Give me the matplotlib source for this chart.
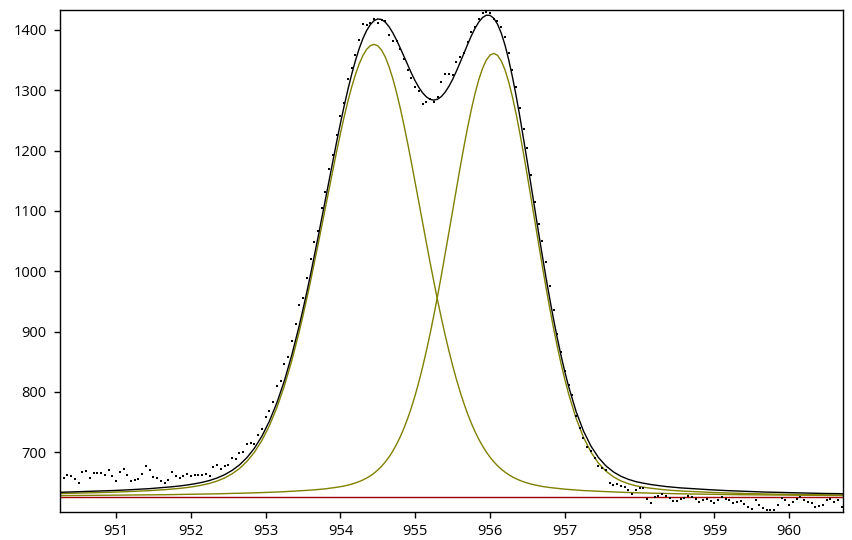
import numpy as np
import matplotlib
matplotlib.use("Agg")
import matplotlib.pyplot as plt

plt.rcParams['font.family'] = ['Open Sans', 'DejaVu Sans']

# energy grid of the fitted curves (eV), 0.1 eV steps
fit_ev = [float(v) for v in """
950.25 950.35 950.45 950.55 950.65 950.75 950.85 950.95
951.05 951.15 951.25 951.35 951.45 951.55 951.65 951.75 951.85 951.95
952.05 952.15 952.25 952.35 952.45 952.55 952.65 952.75 952.85 952.95
953.05 953.15 953.25 953.35 953.45 953.55 953.65 953.75 953.85 953.95
954.05 954.15 954.25 954.35 954.45 954.55 954.65 954.75 954.85 954.95
955.05 955.15 955.25 955.35 955.45 955.55 955.65 955.75 955.85 955.95
956.05 956.15 956.25 956.35 956.45 956.55 956.65 956.75 956.85 956.95
957.05 957.15 957.25 957.35 957.45 957.55 957.65 957.75 957.85 957.95
958.05 958.15 958.25 958.35 958.45 958.55 958.65 958.75 958.85 958.95
959.05 959.15 959.25 959.35 959.45 959.55 959.65 959.75 959.85 959.95
960.05 960.15 960.25 960.35 960.45 960.55 960.65 960.75
""".split()]

# extra points between them across the two peaks
mid_ev = [float(v) for v in """
953.50 953.60 953.70 953.80 953.90 954.00 954.10 954.20 954.30 954.40
954.50 954.60 954.70 954.80 954.90 955.00 955.10 955.20 955.30 955.40
955.50 955.60 955.70 955.80 955.90 956.00 956.10 956.20 956.30 956.40
956.50 956.60 956.70 956.80 956.90 957.00
""".split()]

# component 1 (lower binding energy peak)
comp1 = [631.5, 631.8, 632.0, 632.3, 632.7, 633.0, 633.4, 633.8, 634.2, 634.7,
         635.2, 635.8, 636.4, 637.2, 638.0, 639.0, 640.1, 641.5, 643.3, 645.5,
         648.4, 652.2, 657.3, 664.1, 673.0, 684.8, 700.0, 719.5, 743.9, 773.8,
         809.7, 852.0, 900.3, 954.4, 1013.0, 1074.9, 1137.7, 1199.0, 1256.0, 1305.1,
         1343.3, 1367.7, 1376.0, 1366.5, 1339.1, 1296.3, 1241.8, 1179.5, 1113.2, 1046.5,
         982.1, 922.1, 868.3, 821.2, 781.2, 748.2, 721.5, 700.5, 684.3, 672.0,
         662.8, 656.0, 650.9, 647.2, 644.5, 642.4, 640.8, 639.4, 638.3, 637.4,
         636.5, 635.9, 635.3, 634.7, 634.2, 633.7, 633.3, 632.9, 632.6, 632.2,
         631.9, 631.6, 631.4, 631.1, 630.9, 630.7, 630.5, 630.3, 630.1, 629.9,
         629.8, 629.6, 629.5, 629.3, 629.2, 629.1, 629.0, 628.9, 628.8, 628.7,
         628.6, 628.5, 628.4, 628.4, 628.3, 628.2]
comp1_mid = [926.7, 983.2, 1043.7, 1106.3, 1168.7, 1228.2, 1281.7, 1325.8, 1357.4, 1373.9,
             1373.6, 1354.9, 1319.4, 1270.3, 1211.3, 1146.6, 1079.7, 1013.8, 951.4, 894.4,
             843.8, 800.3, 763.8, 734.1, 710.4, 691.9, 677.7, 667.1, 659.1, 653.3,
             649.0, 645.8, 643.3, 641.5, 640.0, 638.8]

# component 2 (higher binding energy peak)
comp2 = [628.1, 628.2, 628.3, 628.4, 628.4, 628.5, 628.6, 628.7, 628.8, 628.9,
         629.1, 629.2, 629.3, 629.5, 629.6, 629.8, 630.0, 630.2, 630.4, 630.6,
         630.8, 631.1, 631.4, 631.7, 632.0, 632.3, 632.7, 633.1, 633.6, 634.1,
         634.6, 635.3, 635.9, 636.7, 637.7, 638.8, 640.2, 641.9, 644.1, 647.1,
         651.4, 657.2, 665.3, 676.7, 692.2, 712.9, 740.0, 774.5, 817.2, 868.4,
         927.5, 993.5, 1064.1, 1136.2, 1205.8, 1267.9, 1317.6, 1349.8, 1361.0, 1348.8,
         1313.7, 1260.2, 1193.6, 1120.1, 1044.8, 972.2, 905.4, 846.7, 797.1, 756.5,
         724.6, 700.2, 681.9, 668.7, 659.2, 652.5, 647.8, 644.4, 642.1, 640.3,
         638.9, 637.6, 636.6, 635.8, 635.2, 634.5, 634.0, 633.5, 633.0, 632.6,
         632.2, 631.8, 631.5, 631.2, 630.9, 630.7, 630.4, 630.2, 630.0, 629.8,
         629.6, 629.5, 629.3, 629.2, 629.1, 628.9]
comp2_mid = [636.4, 637.2, 638.2, 639.4, 640.9, 642.9, 645.5, 649.1, 654.0, 660.9,
             670.6, 683.9, 701.8, 725.6, 756.3, 794.8, 841.8, 897.0, 959.8, 1028.4,
             1100.2, 1171.6, 1238.0, 1294.6, 1336.1, 1358.2, 1357.9, 1333.9, 1288.9, 1228.2,
             1157.4, 1082.4, 1008.0, 938.0, 875.0, 820.8]

# envelope of the fit
envelope = [633.6, 634.0, 634.3, 634.7, 635.1, 635.5, 636.0, 636.5, 637.0, 637.6,
            638.3, 639.0, 639.7, 640.7, 641.6, 642.8, 644.1, 645.7, 647.7, 650.1,
            653.2, 657.3, 662.7, 669.8, 679.0, 691.1, 706.7, 726.6, 751.5, 781.9,
            818.3, 861.3, 910.2, 965.1, 1024.7, 1087.7, 1151.9, 1214.9, 1274.1, 1326.2,
            1368.7, 1398.9, 1415.3, 1417.2, 1405.3, 1383.2, 1355.8, 1328.0, 1304.4, 1288.9,
            1283.6, 1289.6, 1306.4, 1331.4, 1361.0, 1390.1, 1413.1, 1424.3, 1419.3, 1394.8,
            1350.5, 1290.2, 1218.5, 1141.3, 1063.3, 988.6, 920.2, 860.1, 809.4, 767.9,
            735.1, 710.1, 691.2, 677.4, 667.4, 660.2, 655.1, 651.3, 648.7, 646.5,
            644.8, 643.2, 642.0, 640.9, 640.1, 639.2, 638.5, 637.8, 637.1, 636.5,
            636.0, 635.4, 635.0, 634.5, 634.1, 633.8, 633.4, 633.1, 632.8, 632.5,
            632.2, 632.0, 631.7, 631.6, 631.4, 631.1]
envelope_mid = [937.1, 994.4, 1055.9, 1119.7, 1183.6, 1245.1, 1301.2, 1348.9, 1385.4, 1408.8,
                1418.2, 1412.8, 1395.2, 1369.9, 1341.6, 1315.4, 1295.5, 1284.8, 1285.2, 1296.8,
                1318.0, 1345.9, 1375.8, 1402.7, 1420.5, 1424.1, 1409.6, 1375.0, 1322.0, 1255.5,
                1180.4, 1102.2, 1025.3, 953.5, 889.0, 833.6]

# background
bg_ev = [950.25, 960.75]
bg_red = [626.0, 626.0]

# measured counts
data_ev = [float(v) for v in """
950.30 950.35 950.40 950.45 950.50 950.55 950.60 950.65 950.70 950.75 950.80 950.85 950.90 950.95
951.00 951.05 951.10 951.15 951.20 951.25 951.30 951.35 951.40 951.45
951.50 951.55 951.60 951.65 951.70 951.75 951.80 951.85 951.90 951.95
952.00 952.05 952.10 952.15 952.20 952.25 952.30 952.35 952.40 952.45
952.50 952.55 952.60 952.65 952.70 952.75 952.80 952.85 952.90 952.95
953.00 953.05 953.10 953.15 953.20 953.25 953.30 953.35 953.40 953.45
953.50 953.55 953.60 953.65 953.70 953.75 953.80 953.85 953.90 953.95
954.00 954.05 954.10 954.15 954.20 954.25 954.30 954.35 954.40 954.45
954.50 954.55 954.60 954.65 954.70 954.75 954.80 954.85 954.90 954.95
955.00 955.05 955.10 955.15 955.20 955.25 955.30 955.35 955.40 955.45
955.50 955.55 955.60 955.65 955.70 955.75 955.80 955.85 955.90 955.95
956.00 956.05 956.10 956.15 956.20 956.25 956.30 956.35 956.40 956.45
956.50 956.55 956.60 956.65 956.70 956.75 956.80 956.85 956.90 956.95
957.00 957.05 957.10 957.15 957.20 957.25 957.30 957.35 957.40 957.45
957.50 957.55 957.60 957.65 957.70 957.75 957.80 957.85 957.90 957.95
958.00 958.05 958.10 958.15 958.20 958.25 958.30 958.35 958.40 958.45
958.50 958.55 958.60 958.65 958.70 958.75 958.80 958.85 958.90 958.95
959.00 959.05 959.10 959.15 959.20 959.25 959.30 959.35 959.40 959.45
959.50 959.55 959.60 959.65 959.70 959.75 959.80 959.85 959.90 959.95
960.00 960.05 960.10 960.15 960.20 960.25 960.30 960.35 960.40 960.45
960.50 960.55 960.60 960.65 960.70
""".split()]

counts = [657, 662, 660, 656, 649, 667, 669, 657, 665, 665, 665, 662, 671, 660, 652,
          667, 673, 662, 652, 654, 656, 664, 677, 670, 659, 657, 653, 649, 654, 667,
          660, 658, 660, 664, 661, 662, 662, 662, 664, 660,
          676, 679, 672, 678, 679, 691, 689, 698, 700, 713, 716, 714, 728, 738, 759,
          768, 784, 810,
          818, 846, 858, 884, 912, 944, 955, 988, 1021, 1048, 1067, 1105, 1131, 1170,
          1193, 1226, 1258, 1279, 1318, 1337, 1359, 1383, 1410, 1408, 1411, 1418, 1412,
          1417, 1414, 1392, 1381, 1381, 1368, 1352, 1334, 1320, 1305, 1299, 1278, 1281,
          1285, 1281, 1289, 1314, 1327, 1327, 1325, 1347, 1355, 1361, 1380, 1397, 1405,
          1418, 1428, 1429, 1428, 1418,
          1415, 1404, 1388, 1362, 1333, 1306, 1270, 1236, 1205, 1160, 1114, 1078, 1050,
          1015, 975, 935, 896, 866, 834, 812, 795, 760, 741, 723, 709, 702, 691, 678,
          674, 670, 649, 645, 647, 644, 643, 638, 630, 638, 641, 641, 623, 616, 625,
          628, 631, 628, 624, 620, 620, 622, 624, 627, 626, 622, 617, 621, 623, 620,
          616, 621, 626, 622, 621, 616, 618, 620, 614, 609, 606, 621, 612, 608, 605,
          604, 604, 612, 624, 621, 613, 617, 622, 625, 621, 617, 616, 609, 611, 613,
          621, 622, 618, 621, 610]

x_ticks = [951, 952, 953, 954, 955, 956, 957, 958, 959, 960]
y_ticks = [700, 800, 900, 1000, 1100, 1200, 1300, 1400]


def merged(coarse, fine):
    # put the coarse grid and the in-between points in energy order
    ev = np.array(fit_ev + mid_ev)
    vals = np.array(coarse + fine)
    order = np.argsort(ev)
    return ev[order], vals[order]


fig = plt.figure(figsize=(8.53, 5.40), dpi=100)
ax = fig.add_axes([0.0703, 0.0519, 0.9180, 0.9296])

ax.plot(bg_ev, bg_red, color='#a00000', lw=1.0)
ax.plot(*merged(comp1, comp1_mid), color='#808000', lw=1.0)
ax.plot(*merged(comp2, comp2_mid), color='#808000', lw=1.0)
ax.plot(*merged(envelope, envelope_mid), color='black', lw=1.0)
ax.plot(data_ev, counts, linestyle='none', marker='s', markersize=1.7,
        color='black', markeredgewidth=0)

ax.set_xlim(950.25, 960.72)
ax.set_ylim(601, 1433)
ax.set_xticks(x_ticks)
ax.set_yticks(y_ticks)
ax.tick_params(direction='out', length=4.5, width=1, labelsize=10.5,
               colors='black')
ax.tick_params(axis='y', pad=5)
ax.tick_params(axis='x', pad=4)
for s in ax.spines.values():
    s.set_linewidth(1)
    s.set_color('black')

fig.savefig('out.png', dpi=100)
